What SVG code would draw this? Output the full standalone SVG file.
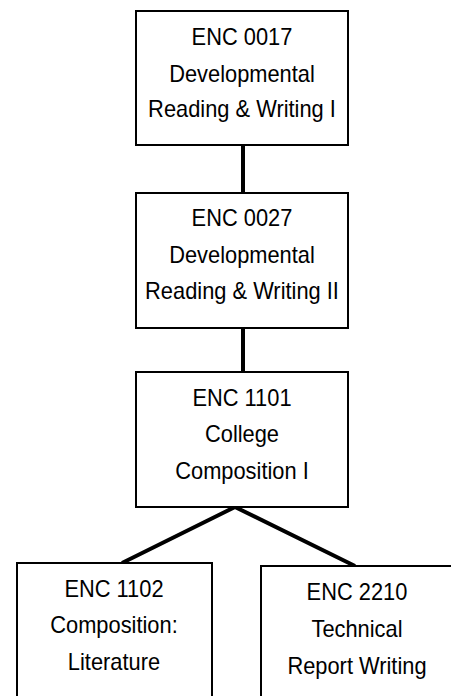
<svg xmlns="http://www.w3.org/2000/svg" width="451" height="696" viewBox="0 0 451 696">
<style>
.box{fill:#fff;stroke:#000;stroke-width:2}
.t{font-family:"Liberation Sans",Arial,sans-serif;font-size:23px;fill:#000;text-anchor:middle;transform-box:fill-box;transform-origin:center;transform:scaleX(0.95)}
.c{stroke:#000;stroke-width:4;fill:none;stroke-linecap:butt}
</style>
<rect width="451" height="696" fill="#fff"/>
<g id="connectors">
<line class="c" x1="243" y1="145" x2="243" y2="193"/>
<line class="c" x1="243" y1="328" x2="243" y2="372"/>
<polyline class="c" points="122,563 235,507 355,566" stroke-linejoin="miter"/>
</g>
<g id="enc0017">
<rect class="box" x="136" y="11" width="212" height="134"/>
<text class="t" x="242" y="45">ENC 0017</text>
<text class="t" x="242" y="82">Developmental</text>
<text class="t" x="242" y="117">Reading &amp; Writing I</text>
</g>
<g id="enc0027">
<rect class="box" x="136" y="193" width="212" height="135"/>
<text class="t" x="242" y="226">ENC 0027</text>
<text class="t" x="242" y="263">Developmental</text>
<text class="t" x="242" y="299">Reading &amp; Writing II</text>
</g>
<g id="enc1101">
<rect class="box" x="136" y="372" width="212" height="135"/>
<text class="t" x="242" y="406">ENC 1101</text>
<text class="t" x="242" y="442">College</text>
<text class="t" x="242" y="479">Composition I</text>
</g>
<g id="enc1102">
<rect class="box" x="17" y="563" width="195" height="140"/>
<text class="t" x="114" y="597">ENC 1102</text>
<text class="t" x="114" y="633">Composition:</text>
<text class="t" x="114" y="670">Literature</text>
</g>
<g id="enc2210">
<rect class="box" x="261" y="566" width="192" height="140"/>
<text class="t" x="357" y="600">ENC 2210</text>
<text class="t" x="357" y="637">Technical</text>
<text class="t" x="357" y="674">Report Writing</text>
</g>
</svg>
